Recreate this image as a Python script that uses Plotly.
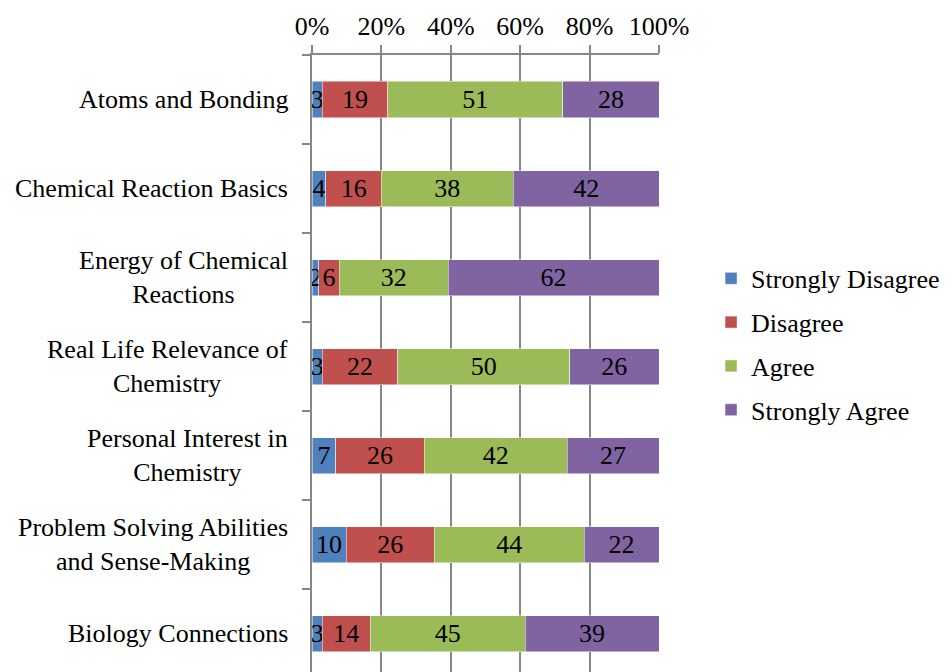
import plotly.graph_objects as go

categories = [
    "Atoms and Bonding",
    "Chemical Reaction Basics",
    "Energy of Chemical<br>Reactions",
    "Real Life Relevance of<br>Chemistry",
    "Personal Interest in<br>Chemistry",
    "Problem Solving Abilities<br>and Sense-Making",
    "Biology Connections",
]
strongly_disagree = [3, 4, 2, 3, 7, 10, 3]
disagree = [19, 16, 6, 22, 26, 26, 14]
agree = [51, 38, 32, 50, 42, 44, 45]
strongly_agree = [28, 42, 62, 26, 27, 22, 39]
x_ticks = [0, 20, 40, 60, 80, 100]
x_tick_labels = ["0%", "20%", "40%", "60%", "80%", "100%"]

series = [
    ("Strongly Disagree", strongly_disagree, "#4F81BD"),
    ("Disagree", disagree, "#C0504D"),
    ("Agree", agree, "#9BBB59"),
    ("Strongly Agree", strongly_agree, "#8064A2"),
]

FONT = "Times New Roman"
FS = 26

fig = go.Figure()
for i, (name, vals, color) in enumerate(series):
    fig.add_trace(go.Bar(
        y=categories, x=vals, name=name, orientation="h",
        marker=dict(color=color, line=dict(color="rgba(255,255,255,0.6)", width=0.8)),
        text=[str(v) for v in vals], textposition="inside",
        insidetextanchor="middle", textangle=0,
        textfont=dict(family=FONT, size=FS, color="black"),
        legendgroup=name, cliponaxis=False,
    ))

for c in categories:
    fig.add_annotation(
        x=0, xref="paper", y=c, yref="y", text=c, showarrow=False,
        xanchor="right", yanchor="middle", align="center", xshift=-22,
        font=dict(family=FONT, size=FS, color="black"),
    )

fig.update_layout(
    barmode="stack", barnorm="percent", bargap=0.595,
    width=943, height=664,
    margin=dict(l=304, r=292, t=47, b=0),
    paper_bgcolor="white", plot_bgcolor="white",
    font=dict(family=FONT, size=FS, color="black"),
    uniformtext=dict(minsize=FS, mode="show"),
    legend=dict(
        x=1.15, y=0.676, xanchor="left", yanchor="top",
        traceorder="grouped", tracegroupgap=7,
        font=dict(family=FONT, size=FS, color="black"),
        itemclick=False,
    ),
    xaxis=dict(
        side="top", range=[0, 100], tickvals=x_ticks, ticktext=x_tick_labels,
        showgrid=True, gridcolor="#878787", gridwidth=1.5,
        ticks="outside", ticklen=8, tickcolor="#878787", tickwidth=1.5,
        showline=True, linecolor="#878787", linewidth=1.5,
        zeroline=False, fixedrange=True,
    ),
    yaxis=dict(
        categoryorder="array", categoryarray=categories,
        range=[6.43, -0.5], showticklabels=False,
        tickson="boundaries", ticks="outside", ticklen=8,
        tickcolor="#878787", tickwidth=1.5,
        showline=True, linecolor="#878787", linewidth=1.5,
        showgrid=False, zeroline=False, fixedrange=True,
    ),
)

fig.write_html("out.html")
